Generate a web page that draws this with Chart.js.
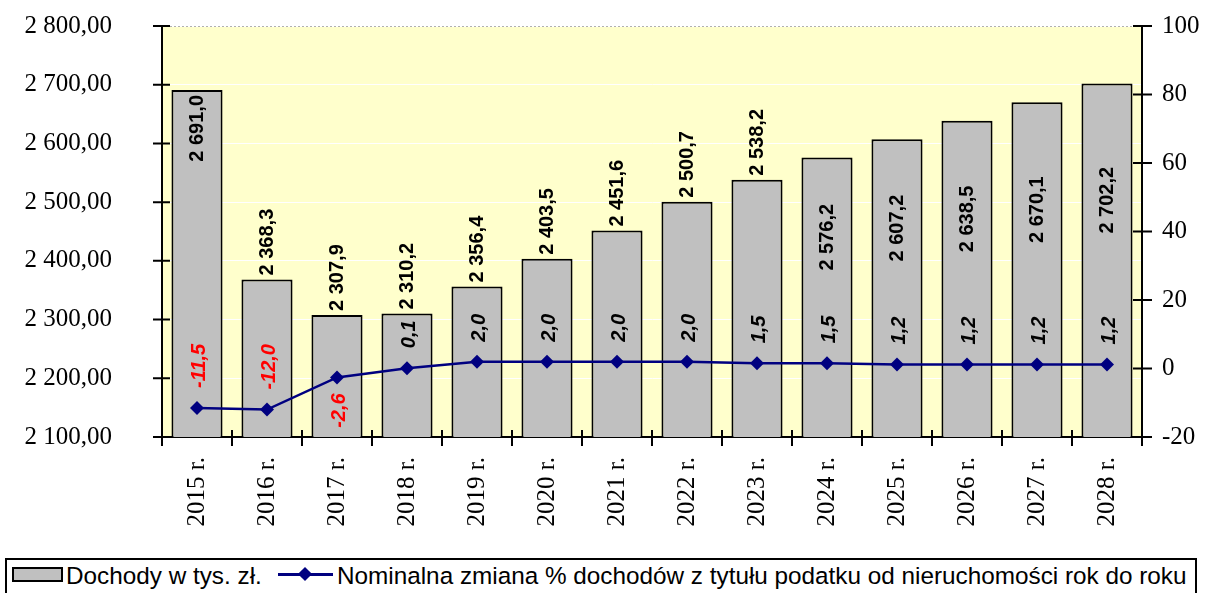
<!DOCTYPE html>
<html lang="pl">
<head>
<meta charset="utf-8">
<title>Dochody z podatku od nieruchomości</title>
<script src="https://cdn.jsdelivr.net/npm/chart.js@4.4.1/dist/chart.umd.min.js"></script>
<style>
    html, body { margin: 0; padding: 0; background: #fff; }
    #wrap { position: relative; width: 1207px; height: 593px; overflow: hidden; }
    #legend {
        position: absolute; left: 5px; top: 558px; width: 1192px; height: 44px;
        border: 2px solid #000; box-sizing: border-box; background: #fff;
        font-family: 'Liberation Sans', Arial, sans-serif; font-size: 24.3px; color: #000;
    }
    #legend .item { position: absolute; top: 3px; line-height: 26px; white-space: nowrap; }
    #legend .barSwatch {
        position: absolute; left: 5px; top: 7px; width: 51px; height: 15px;
        background: #c0c0c0; border: 2px solid #000; box-sizing: border-box;
    }
    #legend .lineSwatch { position: absolute; left: 271px; top: 13px; width: 55px; height: 3px; background: #000080; }
    #legend .lineSwatch::after {
        content: ''; position: absolute; left: 22px; top: -4px; width: 10px; height: 10px;
        background: #000080; transform: rotate(45deg);
    }
</style>
</head>
<body>
<div id="wrap">
    <canvas id="chart" width="1207" height="593"></canvas>
    <div id="legend">
        <span class="barSwatch"></span>
        <span class="item" style="left:59px">Dochody w tys. zł.</span>
        <span class="lineSwatch"></span>
        <span class="item" style="left:330px">Nominalna zmiana % dochodów z tytułu podatku od nieruchomości rok do roku</span>
    </div>
</div>
<script>
const years = ['2015 r.', '2016 r.', '2017 r.', '2018 r.', '2019 r.', '2020 r.', '2021 r.',
    '2022 r.', '2023 r.', '2024 r.', '2025 r.', '2026 r.', '2027 r.', '2028 r.'];

// dochody w tys. zł (lewa oś)
const incomes = [2691.0, 2368.3, 2307.9, 2310.2, 2356.4, 2403.5, 2451.6,
    2500.7, 2538.2, 2576.2, 2607.2, 2638.5, 2670.1, 2702.2];

// zmiana % rok do roku (prawa oś)
const changes = [-11.5, -12.0, -2.6, 0.1, 2.0, 2.0, 2.0, 2.0, 1.5, 1.5, 1.2, 1.2, 1.2, 1.2];

const leftTicks = [2100, 2200, 2300, 2400, 2500, 2600, 2700, 2800];
const rightTicks = [-20, 0, 20, 40, 60, 80, 100];

// where the value labels sit (like the hand-placed labels in the original sheet)
const barLabelPlace = ['in', 'out', 'out', 'out', 'out', 'out', 'out', 'out', 'out', 'mid', 'mid', 'mid', 'mid', 'mid'];
const lineLabelSide = ['up', 'up', 'down', 'up', 'up', 'up', 'up', 'up', 'up', 'up', 'up', 'up', 'up', 'up'];

function formatPl(value, digits) {
    const parts = Math.abs(value).toFixed(digits).split('.');
    const whole = parts[0].replace(/\B(?=(\d{3})+(?!\d))/g, ' ');
    return (value < 0 ? '-' : '') + whole + (parts[1] ? ',' + parts[1] : '');
}

const decorPlugin = {
    id: 'decor',
    beforeDraw(chart) {
        const { ctx, chartArea: a } = chart;
        ctx.save();
        ctx.fillStyle = '#FFFFCC';
        ctx.fillRect(a.left, a.top, a.right - a.left, a.bottom - a.top);
        ctx.restore();
    },
    afterDraw(chart) {
        const { ctx, chartArea: a } = chart;
        ctx.save();

        // dotted frame line on top of the plot
        ctx.strokeStyle = '#b0b0b0';
        ctx.lineWidth = 1;
        ctx.setLineDash([2, 2]);
        ctx.beginPath();
        ctx.moveTo(a.left, a.top + 0.5);
        ctx.lineTo(a.right, a.top + 0.5);
        ctx.stroke();
        ctx.setLineDash([]);

        // tick marks crossing the axes
        ctx.strokeStyle = '#000';
        ctx.lineWidth = 2;
        ctx.beginPath();
        chart.scales.y.ticks.forEach(t => {
            const y = chart.scales.y.getPixelForValue(t.value);
            ctx.moveTo(a.left - 9, y);
            ctx.lineTo(a.left + 8, y);
        });
        chart.scales.y1.ticks.forEach(t => {
            const y = chart.scales.y1.getPixelForValue(t.value);
            ctx.moveTo(a.right - 9, y);
            ctx.lineTo(a.right + 10, y);
        });
        const step = (a.right - a.left) / years.length;
        for (let i = 0; i <= years.length; i++) {
            const x = a.left + i * step;
            ctx.moveTo(x, a.bottom - 7);
            ctx.lineTo(x, a.bottom + 9);
        }
        ctx.stroke();
        ctx.restore();
    },
    afterDatasetsDraw(chart) {
        const { ctx, chartArea: a } = chart;
        ctx.save();
        ctx.textBaseline = 'middle';

        // bar labels
        ctx.font = 'bold 20px "Liberation Sans", Arial, sans-serif';
        ctx.fillStyle = '#000';
        chart.getDatasetMeta(0).data.forEach((bar, i) => {
            const text = formatPl(incomes[i], 1);
            const place = barLabelPlace[i];
            let y = bar.y - 4;
            let align = 'left';
            if (place === 'in') {
                y = bar.y + 5;
                align = 'right';
            } else if (place === 'mid') {
                y = (bar.y + a.bottom) / 2 - 60;
                align = 'center';
            }
            ctx.save();
            ctx.translate(bar.x, y);
            ctx.rotate(-Math.PI / 2);
            ctx.textAlign = align;
            ctx.fillText(text, 0, 0);
            ctx.restore();
        });

        // line labels
        ctx.font = 'italic bold 20px "Liberation Sans", Arial, sans-serif';
        chart.getDatasetMeta(1).data.forEach((pt, i) => {
            const text = formatPl(changes[i], 1);
            const up = lineLabelSide[i] === 'up';
            ctx.save();
            ctx.fillStyle = changes[i] < 0 ? '#FF0000' : '#000';
            ctx.translate(pt.x + 2, up ? pt.y - 20 : pt.y + 16);
            ctx.rotate(-Math.PI / 2);
            ctx.textAlign = up ? 'left' : 'right';
            ctx.fillText(text, 0, 0);
            ctx.restore();
        });
        ctx.restore();
    }
};

const axisFont = { family: '"Liberation Serif", "Times New Roman", serif', size: 25 };

// fixed axis boxes, so the plot area lands where the original has it
function fitY(width) {
    return (scale) => {
        scale.width = width;
        scale.paddingTop = 0;
        scale.paddingBottom = 0;
    };
}

new Chart(document.getElementById('chart'), {
    data: {
        labels: years,
        datasets: [{
            type: 'bar',
            label: 'Dochody w tys. zł.',
            data: incomes,
            yAxisID: 'y',
            backgroundColor: '#C0C0C0',
            borderColor: '#000',
            borderWidth: 2,
            borderSkipped: false,
            categoryPercentage: 1,
            barPercentage: 0.73,
            order: 1,
        }, {
            type: 'line',
            label: 'Nominalna zmiana % dochodów z tytułu podatku od nieruchomości rok do roku',
            data: changes,
            yAxisID: 'y1',
            borderColor: '#000080',
            backgroundColor: '#000080',
            borderWidth: 2.5,
            tension: 0,
            pointStyle: 'rectRot',
            pointRadius: 7,
            pointBorderWidth: 0,
            order: 0,
        }]
    },
    options: {
        responsive: false,
        animation: false,
        layout: { padding: { top: 26, left: 0, right: 0, bottom: 0 } },
        plugins: {
            legend: { display: false },
            tooltip: { enabled: false },
        },
        scales: {
            x: {
                grid: { color: 'transparent', drawTicks: false },
                border: { display: true, color: '#000', width: 2 },
                ticks: {
                    color: '#000',
                    font: axisFont,
                    minRotation: 90,
                    maxRotation: 90,
                    padding: 20,
                    autoSkip: false,
                },
                afterFit: (scale) => { scale.height = 156; },
            },
            y: {
                position: 'left',
                min: leftTicks[0],
                max: leftTicks[leftTicks.length - 1],
                afterBuildTicks: (scale) => { scale.ticks = leftTicks.map(v => ({ value: v })); },
                grid: { color: '#ffffff', lineWidth: 1, drawTicks: false },
                border: { display: true, color: '#000', width: 2 },
                ticks: {
                    color: '#000',
                    font: axisFont,
                    padding: 50,
                    callback: (v) => formatPl(v, 2),
                },
                afterFit: fitY(162),
            },
            y1: {
                position: 'right',
                min: rightTicks[0],
                max: rightTicks[rightTicks.length - 1],
                afterBuildTicks: (scale) => { scale.ticks = rightTicks.map(v => ({ value: v })); },
                grid: { display: false, drawTicks: false },
                border: { display: true, color: '#000', width: 2 },
                ticks: {
                    color: '#000',
                    font: axisFont,
                    padding: 20,
                    callback: (v) => String(v),
                },
                afterFit: fitY(65),
            },
        },
    },
    plugins: [decorPlugin],
});
</script>
</body>
</html>
